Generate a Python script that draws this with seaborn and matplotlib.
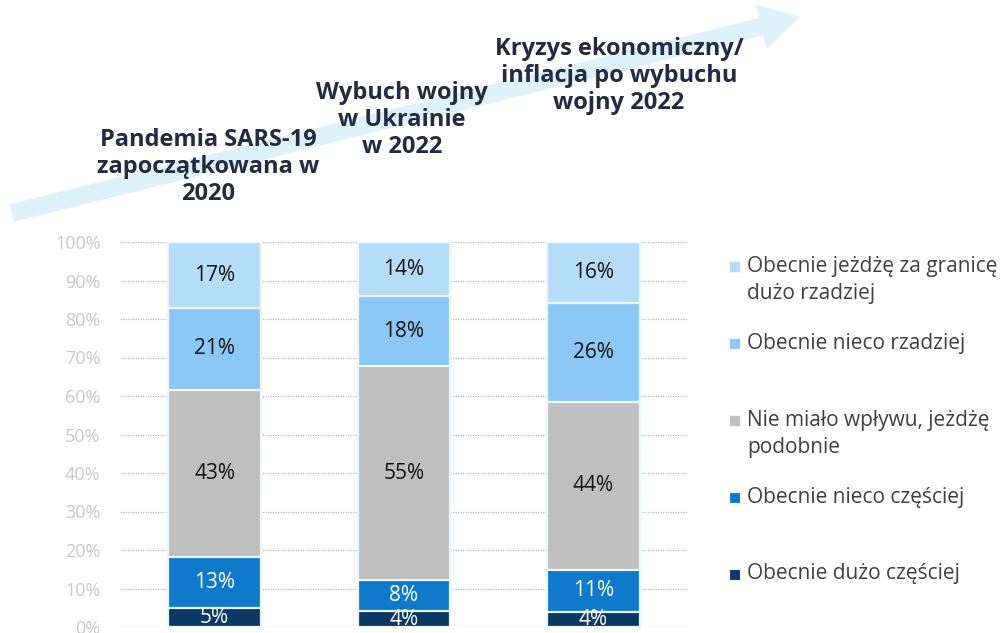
import numpy as np
import pandas as pd
import matplotlib
matplotlib.use("Agg")
import matplotlib.pyplot as plt
import seaborn as sns
from matplotlib.patches import FancyArrow, Rectangle
from matplotlib.transforms import Affine2D

# ---------------- data ----------------
categories = ["Pandemia SARS-19\nzapoczątkowana w\n2020",
              "Wybuch wojny\nw Ukrainie\nw 2022",
              "Kryzys ekonomiczny/\ninflacja po wybuchu\nwojny 2022"]
series_names = ["Obecnie dużo częściej",
                "Obecnie nieco częściej",
                "Nie miało wpływu, jeżdżę\npodobnie",
                "Obecnie nieco rzadziej",
                "Obecnie jeżdżę za granicę\ndużo rzadziej"]
duzo_czesciej = [5, 4, 4]
nieco_czesciej = [13, 8, 11]
bez_wplywu = [43, 55, 44]
nieco_rzadziej = [21, 18, 26]
duzo_rzadziej = [17, 14, 16]
ytick_labels = ["0%", "10%", "20%", "30%", "40%", "50%", "60%", "70%", "80%", "90%", "100%"]

colors = ["#0a3a63", "#0f7acb", "#bfbfbf", "#8cc8f5", "#b5dcf9"]
label_colors = ["white", "white", "#111111", "#111111", "#111111"]

W, H = 1003, 633
sns.set_theme(style="white")
plt.rcParams["font.family"] = ["Open Sans", "DejaVu Sans"]

fig = plt.figure(figsize=(W / 100, H / 100), dpi=100)

def fx(x):
    return x / W

def fy(y):
    return 1 - y / H

pix = Affine2D().scale(1, -1).translate(0, H)

ax = fig.add_axes([fx(120), fy(627), fx(688) - fx(120), fy(242) - fy(627)])

vals = np.array([duzo_czesciej, nieco_czesciej, bez_wplywu, nieco_rzadziej, duzo_rzadziej], dtype=float)
shares = vals / vals.sum(axis=0) * 100
cum = np.cumsum(shares, axis=0)

xlabels = ["c1", "c2", "c3"]
for i in range(len(series_names) - 1, -1, -1):
    df = pd.DataFrame({"cat": xlabels, "val": cum[i]})
    sns.barplot(data=df, x="cat", y="val", color=colors[i], saturation=1,
                width=0.49, edgecolor="#eef7fe", linewidth=1.6, ax=ax, zorder=3)

for i in range(len(series_names)):
    raw = vals[i]
    for j in range(len(xlabels)):
        center = cum[i, j] - shares[i, j] / 2
        ax.text(j, center, f"{int(raw[j])}%", ha="center", va="center",
                fontsize=15, color=label_colors[i], zorder=5)

ax.set_ylim(0, 100)
ax.set_xlim(-0.5, 2.5)
ax.set_yticks(np.arange(0, 101, 10))
ax.set_yticklabels(ytick_labels, color="#c8c8c8", fontsize=13)
ax.tick_params(axis="y", length=0, pad=14)
ax.set_xticks([])
ax.set_xlabel("")
ax.set_ylabel("")
for s in ax.spines.values():
    s.set_visible(False)
ax.yaxis.grid(True, linestyle=(0, (1, 1)), color="#b8b8b8", linewidth=0.9, zorder=0)
ax.set_axisbelow(True)

# arrow in background (pixel coordinates, top-left origin)
x0, y0, x1, y1 = 12, 213, 800, 17
arrow = FancyArrow(x0, y0, x1 - x0, y1 - y0, width=18, head_width=46, head_length=40,
                   length_includes_head=True, color="#def2fc", lw=0,
                   transform=pix, zorder=0)
fig.add_artist(arrow)

title_pos = [(208, 167), (402, 120), (619, 76)]
for (cx, cy), txt in zip(title_pos, categories):
    fig.text(fx(cx), fy(cy), txt, ha="center", va="center", fontsize=17,
             fontweight="bold", color="#232a42", linespacing=1.18, zorder=3)

# legend
legend_y = [266, 343, 420, 497, 574]
legend_order = [4, 3, 2, 1, 0]
for y, i in zip(legend_y, legend_order):
    fig.add_artist(Rectangle((fx(729), fy(y + 6)), fx(11), fy(0) - fy(11),
                             transform=fig.transFigure, facecolor=colors[i],
                             edgecolor="#eef7fe", lw=0.8))
    nlines = series_names[i].count("\n") + 1
    fig.text(fx(747), fy(y + 14 * (nlines - 1)), series_names[i], ha="left", va="center",
             fontsize=15, color="#404040", linespacing=1.35)

fig.savefig("out.png", dpi=100, facecolor="white")
